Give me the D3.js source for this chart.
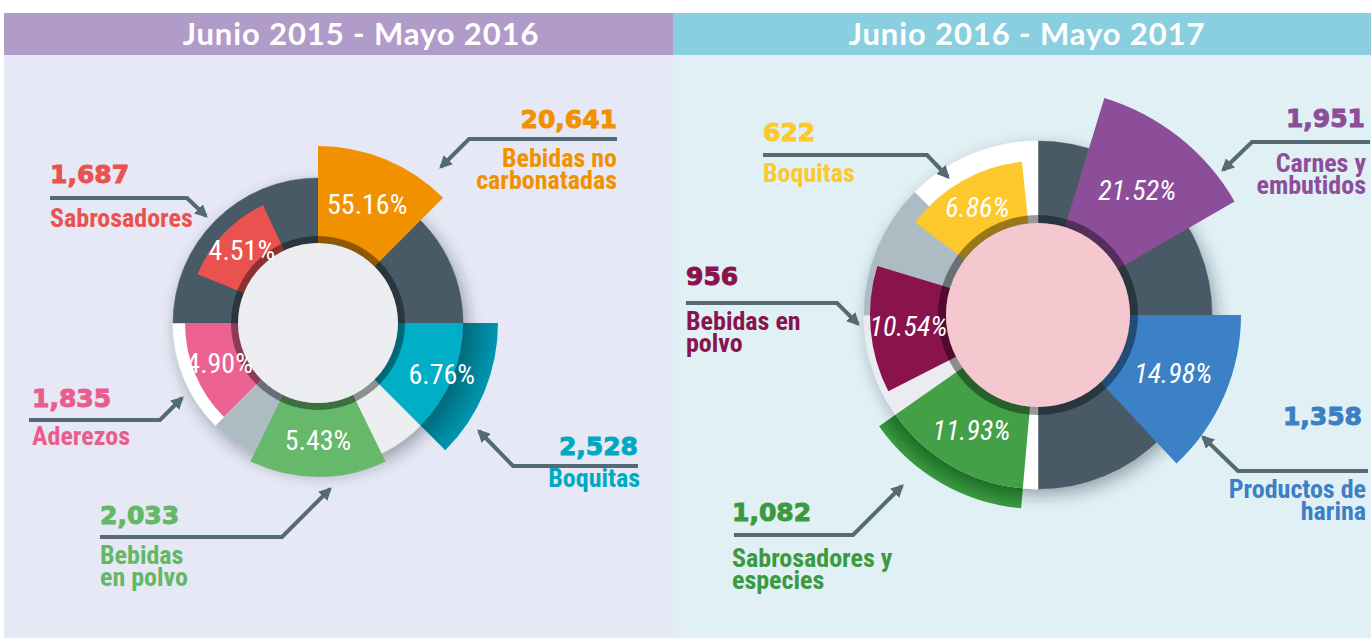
<!DOCTYPE html>
<html>
<head>
<meta charset="utf-8">
<script src="https://cdn.jsdelivr.net/npm/d3@7"></script>
<style>
  body { margin: 0; background: #ffffff; }
  .num { font-family: "DejaVu Sans", sans-serif; font-weight: bold; font-size: 25px; stroke-width: 1px; }
  .cat { font-family: "Liberation Sans Narrow", "Arial Narrow", "Roboto Condensed", sans-serif; font-weight: bold; font-size: 26px; }
  .pct { font-family: "Liberation Sans Narrow", "Arial Narrow", "Roboto Condensed", sans-serif; font-size: 28px; fill: #ffffff; }
  .head { font-family: Lato, "Open Sans", sans-serif; font-weight: bold; font-size: 31px; letter-spacing: 0.9px; fill: #ffffff; }
</style>
</head>
<body>
<script>
// data
const periods = ['Junio 2015 - Mayo 2016', 'Junio 2016 - Mayo 2017']

const cats1516 = ['Bebidas no\ncarbonatadas', 'Boquitas', 'Bebidas\nen polvo', 'Aderezos', 'Sabrosadores']
const values1516 = [20641, 2528, 2033, 1835, 1687]
const shares1516 = [55.16, 6.76, 5.43, 4.90, 4.51]

const cats1617 = ['Carnes y\nembutidos', 'Productos de\nharina', 'Sabrosadores y\nespecies', 'Bebidas en\npolvo', 'Boquitas']
const values1617 = [1951, 1358, 1082, 956, 622]
const shares1617 = [21.52, 14.98, 11.93, 10.54, 6.86]

const W = 1371, H = 639
const angle = d3.scaleLinear().domain([0, 360]).range([0, 2 * Math.PI])
const fmtNum = d3.format(',')
const fmtPct = d3.format('.2f')

// layout of the two panels (decorative, not proportional to the shares)
const charts = [
	{
		title: periods[0], cats: cats1516, values: values1516, shares: shares1516,
		x0: 4, x1: 673, head: '#b09bc9', bg: '#e6e8f5', titleX: 361,
		cx: 318, cy: 323, hole: 80, rim: 87, ringR: 145, holeFill: '#ecedf0', italic: false,
		ring: [[0, 135, '#465a66'], [135, 205, '#eceef1'], [205, 225, '#adbbc3'], [225, 270, '#ffffff'], [270, 360, '#465a66']],
		wedges: [
			{ a: [0, 45], r: 177, color: '#f29100' },
			{ a: [90, 135], r: 180, band: 145, color: '#00afc7', dark: ['#006a7c', '#0098b2'], lr: 134 },
			{ a: [154, 206], r: 154, color: '#66b86a' },
			{ a: [225, 270], r: 133, color: '#eb6191' },
			{ a: [292, 335], r: 130, color: '#e9524f' }
		],
		labels: [
			{ color: '#f29100', anchor: 'end', num: [617, 128], text: [617, 167], line: [[617, 139], [469, 139], [441, 167]] },
			{ color: '#00a9c2', anchor: 'end', num: [638, 455], text: [640, 487], line: [[638, 466], [513, 466], [479, 431]] },
			{ color: '#63b866', anchor: 'start', num: [100, 524], text: [100, 564], line: [[100, 537], [282, 537], [330, 489]] },
			{ color: '#e95d8c', anchor: 'start', num: [32, 407], text: [32, 445], line: [[29, 420], [160, 420], [182, 398]] },
			{ color: '#e9524f', anchor: 'start', num: [50, 183], text: [50, 227], line: [[50, 198], [187, 198], [206, 216]] }
		]
	},
	{
		title: periods[1], cats: cats1617, values: values1617, shares: shares1617,
		x0: 673, x1: 1371, head: '#8acfdf', bg: '#e0f0f5', titleX: 1027,
		cx: 1038, cy: 315, hole: 92, rim: 100, ringR: 174, holeFill: '#f5c8d0', italic: true,
		ring: [[0, 180, '#465a66'], [180, 235, '#ffffff'], [235, 270, '#eaecef'], [270, 315, '#adbbc3'], [315, 360, '#ffffff']],
		wedges: [
			{ a: [17, 60], r: 227, color: '#8c4e99' },
			{ a: [90, 137], r: 203, color: '#3c81c5' },
			{ a: [185, 235], r: 194, band: 174, color: '#43a047', dark: ['#1f6e27', '#3a9a40'], lr: 133 },
			{ a: [243, 287], r: 168, color: '#8a124d' },
			{ a: [307, 354], r: 154, color: '#fdc82b' }
		],
		labels: [
			{ color: '#8c4e99', anchor: 'end', num: [1365, 127], text: [1366, 172], line: [[1370, 142], [1252, 142], [1223, 170]] },
			{ color: '#3c7fc4', anchor: 'end', num: [1362, 425], text: [1366, 498], line: [[1368, 471], [1238, 471], [1203, 437]] },
			{ color: '#3b9a41', anchor: 'start', num: [732, 521], text: [732, 567], line: [[734, 535], [853, 535], [902, 486]] },
			{ color: '#8a124d', anchor: 'start', num: [686, 285], text: [686, 330], line: [[686, 303], [837, 303], [858, 324]] },
			{ color: '#fdc82b', anchor: 'start', num: [763, 141], text: [763, 182], line: [[763, 155], [927, 155], [948, 177]] }
		]
	}
]

let svg = d3.select('body')
	.append('svg')
	.attr('width', W)
	.attr('height', H)

let defs = svg.append('defs')

defs.append('filter')
	.attr('id', 'shadow')
	.attr('x', '-30%').attr('y', '-30%').attr('width', '160%').attr('height', '160%')
	.append('feDropShadow')
	.attr('dx', 4).attr('dy', 6)
	.attr('stdDeviation', 8)
	.attr('flood-color', '#1a2530')
	.attr('flood-opacity', 0.38)

defs.append('marker')
	.attr('id', 'arrow')
	.attr('viewBox', '0 0 10 10')
	.attr('refX', 8).attr('refY', 5)
	.attr('markerUnits', 'userSpaceOnUse')
	.attr('markerWidth', 13).attr('markerHeight', 13)
	.attr('orient', 'auto')
	.append('path')
	.attr('d', 'M0,0 L10,5 L0,10 z')
	.attr('fill', '#546b76')

function drawChart(c, k) {
	let g = svg.append('g')

	// panel + header
	g.append('rect')
		.attr('x', c.x0).attr('y', 55)
		.attr('width', c.x1 - c.x0).attr('height', 583)
		.attr('fill', c.bg)
	g.append('rect')
		.attr('x', c.x0).attr('y', 13)
		.attr('width', c.x1 - c.x0).attr('height', 42)
		.attr('fill', c.head)
	g.append('text')
		.attr('class', 'head')
		.attr('x', c.titleX).attr('y', 45)
		.attr('text-anchor', 'middle')
		.text(c.title)

	let rows = c.cats.map((name, i) => ({
		name: name, value: c.values[i], share: c.shares[i],
		w: c.wedges[i], lab: c.labels[i]
	}))

	let arc = d3.arc()
	let pie = g.append('g').attr('transform', `translate(${c.cx},${c.cy})`)

	// background ring with drop shadow
	pie.append('g')
		.attr('filter', 'url(#shadow)')
		.selectAll('path')
		.data(c.ring)
		.join('path')
		.attr('d', d => arc({ innerRadius: c.hole, outerRadius: c.ringR, startAngle: angle(d[0]), endAngle: angle(d[1]) }))
		.attr('fill', d => d[2])
		.attr('stroke', d => d[2])
		.attr('stroke-width', 0.5)

	// darker outer band for the wedges that stick out with a shade
	rows.filter(d => d.w.band).forEach(d => {
		let id = 'band' + k
		let grad = defs.append('radialGradient')
			.attr('id', id)
			.attr('gradientUnits', 'userSpaceOnUse')
			.attr('cx', 0).attr('cy', 0).attr('r', d.w.r)
		grad.append('stop').attr('offset', d.w.band / d.w.r).attr('stop-color', d.w.dark[0])
		grad.append('stop').attr('offset', 1).attr('stop-color', d.w.dark[1])
		pie.append('path')
			.attr('d', arc({ innerRadius: d.w.band, outerRadius: d.w.r, startAngle: angle(d.w.a[0]), endAngle: angle(d.w.a[1]) }))
			.attr('fill', `url(#${id})`)
	})

	pie.selectAll('path.wedge')
		.data(rows)
		.join('path')
		.attr('class', 'wedge')
		.attr('d', d => arc({ innerRadius: c.hole, outerRadius: d.w.band || d.w.r, startAngle: angle(d.w.a[0]), endAngle: angle(d.w.a[1]) }))
		.attr('fill', d => d.w.color)

	// dark rim round the hole, then the hole
	pie.append('path')
		.attr('d', arc({ innerRadius: c.hole - 1, outerRadius: c.rim, startAngle: 0, endAngle: 2 * Math.PI }))
		.attr('fill', '#000000')
		.attr('opacity', 0.4)
	pie.append('circle')
		.attr('r', c.hole)
		.attr('fill', c.holeFill)

	pie.selectAll('text.pct')
		.data(rows)
		.join('text')
		.attr('class', 'pct')
		.attr('font-style', c.italic ? 'italic' : 'normal')
		.attr('text-anchor', 'middle')
		.attr('dominant-baseline', 'central')
		.attr('transform', d => {
			let a = angle((d.w.a[0] + d.w.a[1]) / 2)
			let r = d.w.lr || (c.hole + d.w.r) / 2
			return `translate(${r * Math.sin(a)},${-r * Math.cos(a)})`
		})
		.text(d => fmtPct(d.share) + '%')

	// leader lines and labels
	let lab = g.append('g')
	lab.selectAll('polyline')
		.data(rows)
		.join('polyline')
		.attr('points', d => d.lab.line.map(p => p.join(',')).join(' '))
		.attr('fill', 'none')
		.attr('stroke', '#546b76')
		.attr('stroke-width', 4)
		.attr('marker-end', 'url(#arrow)')

	lab.selectAll('text.num')
		.data(rows)
		.join('text')
		.attr('class', 'num')
		.attr('x', d => d.lab.num[0]).attr('y', d => d.lab.num[1])
		.attr('text-anchor', d => d.lab.anchor)
		.attr('fill', d => d.lab.color)
		.attr('stroke', d => d.lab.color)
		.text(d => fmtNum(d.value))

	let names = lab.selectAll('text.cat')
		.data(rows)
		.join('text')
		.attr('class', 'cat')
		.attr('text-anchor', d => d.lab.anchor)
		.attr('fill', d => d.lab.color)

	names.selectAll('tspan')
		.data(d => d.name.split('\n').map(s => ({ s: s, lab: d.lab })))
		.join('tspan')
		.attr('x', d => d.lab.text[0])
		.attr('y', (d, i) => d.lab.text[1] + i * 22)
		.text(d => d.s)
}

charts.forEach(drawChart)
</script>
</body>
</html>
